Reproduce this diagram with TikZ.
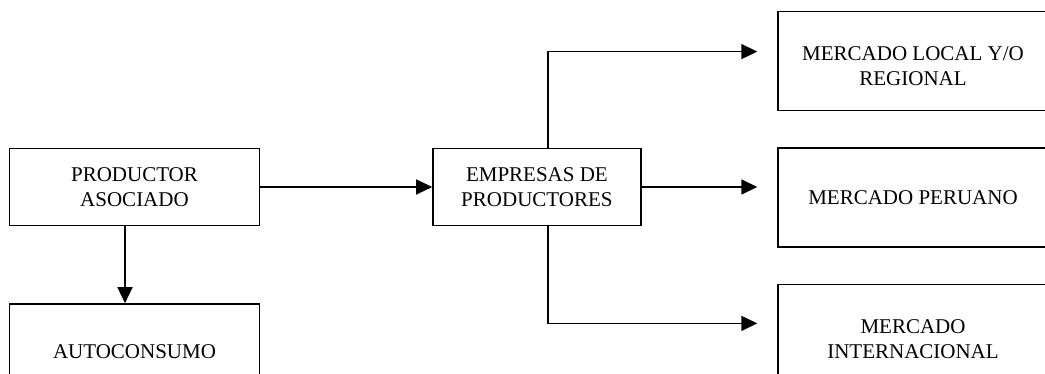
\documentclass[tikz,border=0pt]{standalone}
\usepackage{fontspec}
\setmainfont{Liberation Serif}
\usetikzlibrary{arrows.meta,positioning}
\tikzset{
    line color/.style={black},
    box/.style={draw,line color,line width=1.4pt,rectangle,align=center,inner sep=4pt},
    small box/.style={box,minimum width=250pt,minimum height=77pt},
    mid box/.style={box,minimum width=208pt,minimum height=77pt},
    market/.style={box,minimum width=270pt,minimum height=99pt},
    arr/.style={->,>={Triangle[length=16pt,width=15pt]},line width=1.4pt},
}
\tikzstyle{every node}=[font=\fontsize{21}{25}\selectfont]

\begin{document}
\begin{tikzpicture}[x=1pt,y=1pt]
        \clip (0,0) rectangle (1045,374);

        \node[small box] (prod) at (134.5,187) {PRODUCTOR\\ASOCIADO};
        \node[small box, minimum height=96pt, below=77pt of prod] (auto) {AUTOCONSUMO};
        \node[mid box, right=172pt of prod] (emp) {EMPRESAS DE\\PRODUCTORES};

        \node[market] (peruano) at (913,176.5) {MERCADO PERUANO};
        \node[market, above=36pt of peruano] (local) {\mbox{}\\MERCADO LOCAL Y/O\\REGIONAL};
        \node[market, below=36pt of peruano] (inter) {\mbox{}\\MERCADO\\INTERNACIONAL};

        % ends of the branches
        \coordinate (to local) at ([xshift=-20pt,yshift=9.5pt]local.west);
        \coordinate (to peruano) at ([xshift=-20pt,yshift=10.5pt]peruano.west);
        \coordinate (to inter) at ([xshift=-20pt,yshift=10.5pt]inter.west);

        \draw[arr] ([xshift=-9.5pt]prod.south) -- ([xshift=-9.5pt]auto.north);
        \draw[arr] (prod.east) -- (emp.west);
        \draw[arr] ([xshift=11pt]emp.north) |- (to local);
        \draw[arr] (emp.east |- to peruano) -- (to peruano);
        \draw[arr] ([xshift=11pt]emp.south) |- (to inter);
    \end{tikzpicture}
\end{document}
